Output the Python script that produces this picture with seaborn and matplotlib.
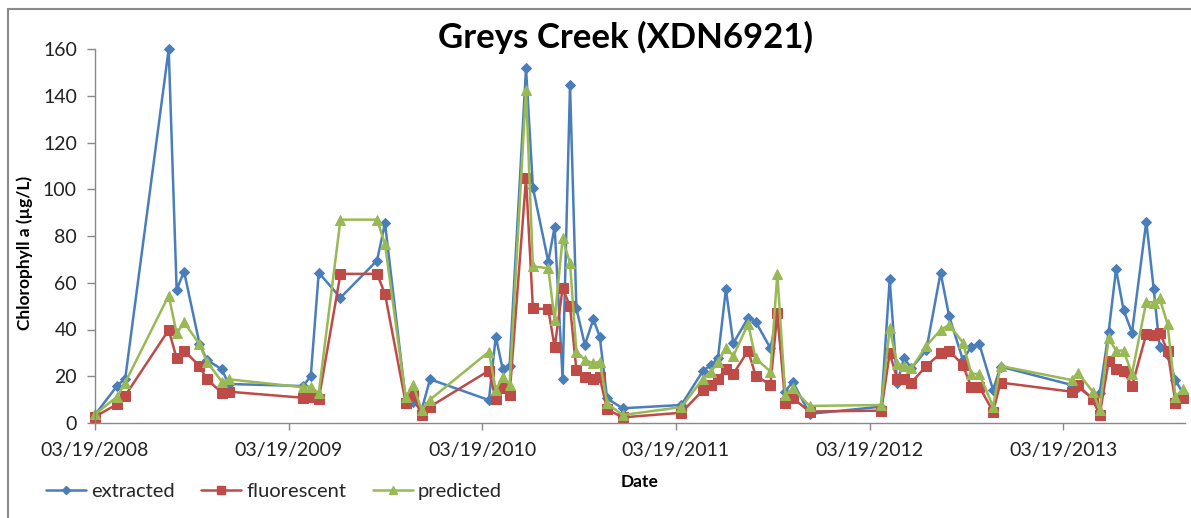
import matplotlib
matplotlib.use("Agg")
import matplotlib.pyplot as plt
import seaborn as sns
import pandas as pd
from matplotlib.lines import Line2D

# ---------------- data ----------------
dates = [
    "2008-03-19", "2008-04-30", "2008-05-15", "2008-08-05", "2008-08-20", "2008-09-03",
    "2008-10-02", "2008-10-16", "2008-11-13", "2008-11-26",
    "2009-04-15", "2009-04-30", "2009-05-15", "2009-06-25", "2009-09-02", "2009-09-17",
    "2009-10-26", "2009-11-09", "2009-11-25", "2009-12-11",
    "2010-04-01", "2010-04-14", "2010-04-27", "2010-05-10", "2010-06-10", "2010-06-23",
    "2010-07-22", "2010-08-03", "2010-08-18", "2010-09-01", "2010-09-13", "2010-09-29",
    "2010-10-15", "2010-10-27", "2010-11-10", "2010-12-09",
    "2011-03-30", "2011-05-10", "2011-05-25", "2011-06-07", "2011-06-22", "2011-07-06",
    "2011-08-03", "2011-08-17", "2011-09-14", "2011-09-27", "2011-10-12", "2011-10-26",
    "2011-11-27",
    "2012-04-10", "2012-04-26", "2012-05-10", "2012-05-23", "2012-06-06", "2012-07-04",
    "2012-07-31", "2012-08-16", "2012-09-11", "2012-09-27", "2012-10-12", "2012-11-07",
    "2012-11-21",
    "2013-04-04", "2013-04-16", "2013-05-14", "2013-05-27", "2013-06-13", "2013-06-27",
    "2013-07-11", "2013-07-27", "2013-08-23", "2013-09-06", "2013-09-17", "2013-10-02",
    "2013-10-17", "2013-10-31",
]

extracted = [
    3.5, 16, 19, 160, 57, 64.8, 34, 27, 23, 16.7,
    15.8, 20, 64.3, 53.6, 69.5, 85.5, 10, 9, 5.6, 18.7,
    9.8, 37, 23, 24.4, 151.8, 100.7, 69, 84, 19, 144.7, 49, 33.4, 44.4, 37, 10.5, 6.3,
    7.7, 22.4, 24.8, 27.7, 57.2, 34.1, 45, 43.4, 32, 46, 13.4, 17.7, 3.9,
    7, 61.5, 17, 27.7, 23.4, 31.2, 64.3, 45.8, 27, 32.7, 33.8, 14.1, 24.1,
    16.3, 15.3, 10.6, 12.7, 39, 65.8, 48.4, 38.7, 86.2, 57.2, 32.7, 29.1, 18.4, 12.7,
]

fluorescent = [
    2.7, 8.1, 11.7, 39.8, 27.7, 31, 24.4, 18.7, 13, 13.4,
    10.8, 11.3, 10.1, 63.8, 63.8, 55.2, 8.7, 11.8, 3.4, 7,
    22.4, 10.1, 14.8, 12, 104.7, 49, 48.7, 32.4, 57.6, 50, 22.7, 19.5, 18.7, 19.5, 5.9, 2.4,
    4.4, 14.1, 16.3, 19, 23.1, 21, 31, 20.3, 16.3, 47, 8.7, 10.6, 4.9,
    5.3, 29.8, 19, 18.7, 17.3, 24.4, 29.8, 31, 24.8, 15.3, 15.5, 4.9, 17.3,
    13.4, 16.3, 10.1, 3.4, 26.5, 23, 22.4, 15.8, 38.1, 37.8, 38.7, 31, 8.7, 10.6,
]

predicted = [
    3.7, 11.3, 17.3, 54.5, 38.4, 43, 33.8, 26.3, 17.7, 18.7,
    15.3, 15.5, 12.7, 87, 87, 76.5, 11, 16.3, 5.6, 10,
    30.5, 14, 19.8, 16.3, 142.5, 67, 66.2, 44, 79, 68.4, 30.5, 27, 25.5, 26.3, 8.4, 3.4,
    6.8, 19, 22, 26.2, 32, 28.7, 42.4, 27.7, 22, 63.8, 12, 14.8, 7.3,
    7.7, 40.5, 25.3, 24.4, 23.4, 33, 39.8, 42, 34.4, 21, 21, 7, 24.4,
    18.4, 21.5, 13.4, 5.6, 36.2, 31, 31, 21, 51.9, 51.5, 53.4, 42.4, 11.3, 14.4,
]

series_names = ["extracted", "fluorescent", "predicted"]
tick_dates = ["2008-03-19", "2009-03-19", "2010-03-19", "2011-03-19", "2012-03-19", "2013-03-19"]
tick_labels = ["03/19/2008", "03/19/2009", "03/19/2010", "03/19/2011", "03/19/2012", "03/19/2013"]
y_ticks = [0, 20, 40, 60, 80, 100, 120, 140, 160]

# ---------------- style ----------------
sns.set_theme(style="white")
plt.rcParams["font.family"] = ["Lato", "DejaVu Sans"]

W, H = 1191, 518
fig = plt.figure(figsize=(W / 100, H / 100), dpi=100)
ax = fig.add_axes([95 / W, 1 - 423 / H, (1185 - 95) / W, (423 - 49) / H])

x = pd.to_datetime(pd.Series(dates))
styles = [
    ("#4A7EBB", "D", 5),
    ("#BE4B48", "s", 6.5),
    ("#98B954", "^", 7),
]
handles = []
for name, vals, (col, mk, ms) in zip(series_names, [extracted, fluorescent, predicted], styles):
    sns.lineplot(x=x, y=vals, ax=ax, color=col, marker=mk, markersize=ms,
                 markeredgecolor=col, linewidth=1.8, legend=False, clip_on=False)
    handles.append(Line2D([], [], color=col, marker=mk, markersize=ms * 0.8,
                          markeredgecolor=col, linewidth=1.8, label=name))

ax.set_ylim(0, 160)
ax.set_yticks(y_ticks)
ax.set_xlim(pd.Timestamp("2008-03-19"), pd.Timestamp("2013-11-04"))
ax.set_xticks(pd.to_datetime(tick_dates))
ax.set_xticklabels(tick_labels)
ax.set_xlabel("")
ax.set_ylabel("")

for s in ["top", "right"]:
    ax.spines[s].set_visible(False)
for s in ["left", "bottom"]:
    ax.spines[s].set_color("#888888")
    ax.spines[s].set_linewidth(1.0)

ax.tick_params(axis="y", direction="out", length=6, width=1, color="#888888",
               labelsize=14, pad=7, left=True, labelcolor="#222222")
ax.tick_params(axis="x", direction="out", length=5, width=1, color="#888888",
               labelsize=14, pad=9, bottom=True, labelcolor="#222222")
ax.grid(False)

fig.text(625 / W, 1 - 37 / H, "Greys Creek (XDN6921)", ha="center", va="center",
         fontsize=25, fontweight="bold", color="black")
fig.text(640 / W, 1 - 482 / H, "Date", ha="center", va="center",
         fontsize=12.5, fontweight="bold", color="black")
fig.text(25 / W, 1 - 253 / H, "Chlorophyll a (µg/L)", ha="center", va="center",
         rotation=90, fontsize=12.5, fontweight="bold", color="black")

fig.legend(handles=handles, loc="center left", bbox_to_anchor=(38 / W, 1 - 491 / H),
           ncol=3, frameon=False, fontsize=14.5, handlelength=2.0, columnspacing=1.3,
           handletextpad=0.25, borderaxespad=0)

# outer chart border (left and top visible)
fig.add_artist(Line2D([8 / W, 8 / W], [0, 1 - 9 / H], color="#8a8a8a", linewidth=1.5))
fig.add_artist(Line2D([8 / W, 1], [1 - 9 / H, 1 - 9 / H], color="#8a8a8a", linewidth=1.5))

fig.savefig("out.png", dpi=100)
